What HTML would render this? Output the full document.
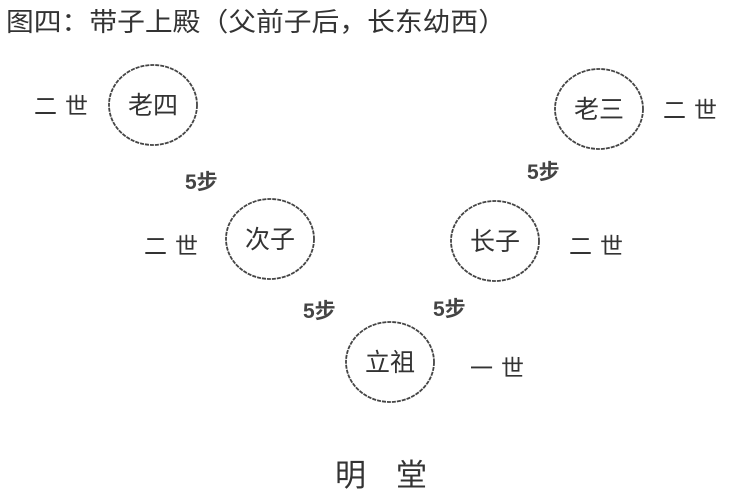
<!DOCTYPE html>
<html><head><meta charset="utf-8"><style>
body{margin:0;background:#fff;width:750px;height:504px;overflow:hidden}
</style></head><body>
<svg width="750" height="504" xmlns="http://www.w3.org/2000/svg" style="position:absolute;left:0;top:0">
<g font-family="'Liberation Sans','Noto Sans CJK SC',sans-serif" fill="#333">
<text x="6" y="31" font-size="26" textLength="500" lengthAdjust="spacingAndGlyphs">图四：带子上殿（父前子后，长东幼西）</text>
<g fill="none" stroke="#444" stroke-width="1.8" stroke-dasharray="4 1">
<ellipse cx="153" cy="105" rx="44" ry="40"/>
<ellipse cx="599" cy="109" rx="44" ry="40"/>
<ellipse cx="270" cy="239" rx="44" ry="40"/>
<ellipse cx="495" cy="241" rx="44" ry="40"/>
<ellipse cx="390" cy="362" rx="44" ry="40"/>
</g>
<g font-size="25" text-anchor="middle">
<text x="153" y="114">老四</text>
<text x="599" y="118">老三</text>
<text x="270" y="248">次子</text>
<text x="495" y="250">长子</text>
<text x="390" y="371">立祖</text>
</g>
<g font-size="23" letter-spacing="8">
<text x="34" y="114">二世</text>
<text x="663" y="118">二世</text>
<text x="144" y="254">二世</text>
<text x="569" y="254">二世</text>
<text x="470" y="376">一世</text>
</g>
<g font-size="21" font-weight="bold" fill="#444">
<text x="185" y="189">5步</text>
<text x="527" y="179">5步</text>
<text x="303" y="318">5步</text>
<text x="433" y="316">5步</text>
</g>
<text x="335" y="486" font-size="31" letter-spacing="30">明堂</text>
</g>
</svg>
</body></html>
